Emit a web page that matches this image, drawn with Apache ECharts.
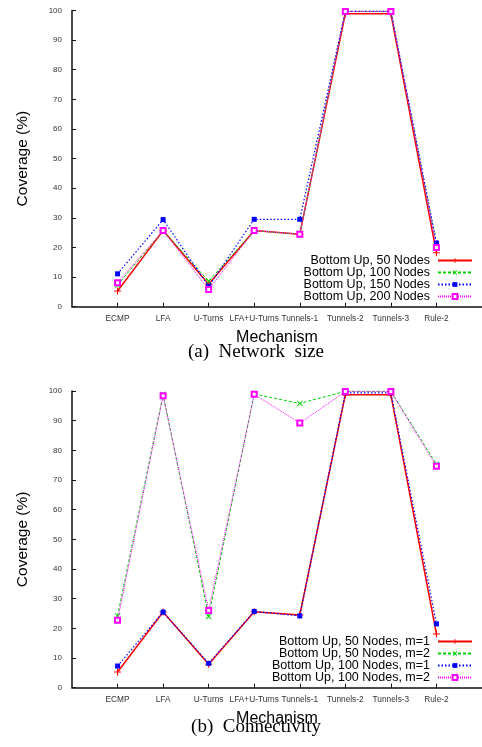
<!DOCTYPE html>
<html><head><meta charset="utf-8">
<script src="https://cdn.jsdelivr.net/npm/echarts@6/dist/echarts.min.js"></script>
<style>html,body{margin:0;padding:0;background:#fff}#c{width:482px;height:747px}</style>
</head><body><div id="c"></div>
<script>
const categories = ['ECMP','LFA','U-Turns','LFA+U-Turns','Tunnels-1','Tunnels-2','Tunnels-3','Rule-2'];
const sizeNames = ['Bottom Up, 50 Nodes','Bottom Up, 100 Nodes','Bottom Up, 150 Nodes','Bottom Up, 200 Nodes'];
const size50  = [5.3, 25.7, 7.6, 25.7, 24.5, 98.9, 98.9, 18.2];
const size100 = [7.3, 25.7, 8.6, 25.7, 24.4, 99.7, 99.7, 20.8];
const size150 = [11.1, 29.4, 6.9, 29.5, 29.5, 99.7, 99.7, 21.5];
const size200 = [8.1, 25.7, 5.8, 25.7, 24.5, 99.7, 99.7, 20.0];
const connNames = ['Bottom Up, 50 Nodes, m=1','Bottom Up, 50 Nodes, m=2','Bottom Up, 100 Nodes, m=1','Bottom Up, 100 Nodes, m=2'];
const conn50m1  = [5.3, 25.5, 7.9, 25.6, 24.5, 98.7, 98.7, 18.1];
const conn50m2  = [24.2, 98.8, 24.0, 99.0, 95.8, 99.9, 99.9, 75.3];
const conn100m1 = [7.3, 25.5, 8.2, 25.7, 24.2, 99.4, 99.4, 21.5];
const conn100m2 = [22.7, 98.4, 26.0, 98.9, 89.2, 99.8, 99.8, 74.6];
const yTitle = 'Coverage (%)';
const xTitle = 'Mechanism';
const captionA = '(a)\u2002Network\u2002size';
const captionB = '(b)\u2002Connectivity';

const SANS = '"Liberation Sans", Arial, sans-serif';
const SERIF = '"Liberation Serif", "Times New Roman", serif';
const PLUS = 'path://M4.2,0H5.8V4.2H10V5.8H5.8V10H4.2V5.8H0V4.2H4.2Z';
const CROSS = 'path://M0,1.1L1.1,0L5,3.9L8.9,0L10,1.1L6.1,5L10,8.9L8.9,10L5,6.1L1.1,10L0,8.9L3.9,5Z';

const styles = [
  {color:'#ff0000', type:'solid', width:1.5, symbol:PLUS, size:7},
  {color:'#00d000', type:[3,2], width:1, symbol:CROSS, size:6},
  {color:'#0000ff', type:[1.5,2], width:1.2, symbol:'rect', size:5},
  {color:'#ff00ff', type:[1,1], width:1, symbol:'emptyRect', size:5}
];

function pairs(arr){ return arr.map((v,i)=>[i+1, v]); }

function mkX(gi){
  return {
    type:'value', gridIndex:gi, min:0, max:9, interval:1,
    name: xTitle, nameLocation:'middle', nameGap:23,
    nameTextStyle:{fontFamily:SANS, fontSize:16, color:'#000'},
    axisLine:{lineStyle:{color:'#111', width:1.5}},
    axisTick:{inside:true, length:4, lineStyle:{color:'#111', width:1}},
    axisLabel:{formatter:v => categories[v-1] || '', fontFamily:SANS, fontSize:8.3, color:'#333', margin:8, showMinLabel:false, showMaxLabel:false},
    splitLine:{show:false}
  };
}
function mkY(gi){
  return {
    type:'value', gridIndex:gi, min:0, max:100, interval:10,
    name: yTitle, nameLocation:'middle', nameRotate:90, nameGap:41,
    nameTextStyle:{fontFamily:SANS, fontSize:15.5, color:'#000'},
    axisLine:{show:true, lineStyle:{color:'#111', width:1.5}},
    axisTick:{show:true, inside:true, length:4, lineStyle:{color:'#111', width:1}},
    axisLabel:{fontFamily:SANS, fontSize:8, color:'#333', margin:10},
    splitLine:{show:false}
  };
}
function mkSeries(name, data, k, gi){
  const s = styles[k];
  return {
    type:'line', name:name, xAxisIndex:gi, yAxisIndex:gi, data:pairs(data),
    symbol:s.symbol, symbolSize:s.size, showAllSymbol:true,
    lineStyle:{color:s.color, type:s.type, width:s.width},
    itemStyle:{color:s.color, borderColor:s.color, borderWidth: s.symbol==='emptyRect'?1:0},
    z: 2 + k, animation:false
  };
}
function mkLegend(names, top){
  return {
    data:names, orient:'vertical', right:4, top:top, align:'right',
    itemWidth:34, itemHeight:6, itemGap:-1, selectedMode:false,
    textStyle:{fontFamily:SANS, fontSize:12.5, color:'#000', lineHeight:12, padding:[0,3,0,0]}
  };
}

const chart = echarts.init(document.getElementById('c'), null, {renderer:'canvas'});
chart.setOption({
  animation:false,
  backgroundColor:'#fff',
  grid:[
    {left:72, right:-5.3, top:10.5, height:296.2},
    {left:72, right:-5.3, top:391, height:296.7}
  ],
  xAxis:[mkX(0), mkX(1)],
  yAxis:[mkY(0), mkY(1)],
  legend:[mkLegend(sizeNames, 249), mkLegend(connNames, 630)],
  series:[
    mkSeries(sizeNames[0], size50, 0, 0),
    mkSeries(sizeNames[1], size100, 1, 0),
    mkSeries(sizeNames[2], size150, 2, 0),
    mkSeries(sizeNames[3], size200, 3, 0),
    mkSeries(connNames[0], conn50m1, 0, 1),
    mkSeries(connNames[1], conn50m2, 1, 1),
    mkSeries(connNames[2], conn100m1, 2, 1),
    mkSeries(connNames[3], conn100m2, 3, 1)
  ],
  graphic:[
    {type:'text', x:256, y:352, style:{text:captionA, font:'19px '+SERIF, fill:'#000', textAlign:'center', textVerticalAlign:'middle'}},
    {type:'text', x:256, y:727.5, style:{text:captionB, font:'19px '+SERIF, fill:'#000', textAlign:'center', textVerticalAlign:'middle'}}
  ]
});
</script></body></html>
